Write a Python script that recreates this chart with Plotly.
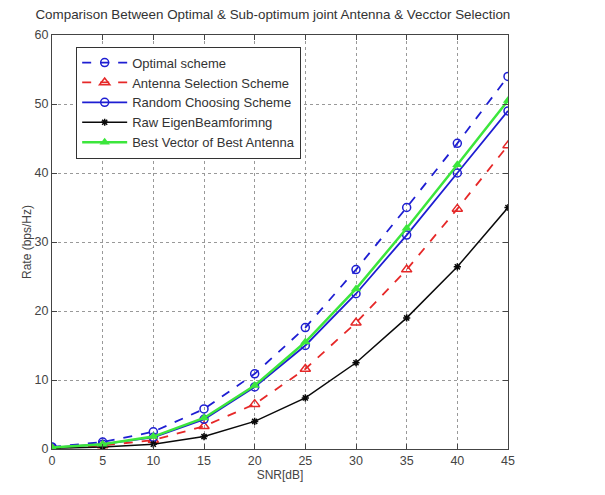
import plotly.graph_objects as go

snr = [0, 5, 10, 15, 20, 25, 30, 35, 40, 45]
optimal = [0.3, 1.0, 2.5, 5.8, 10.9, 17.6, 26.0, 35.0, 44.3, 54.0]
antenna_sel = [0.1, 0.5, 1.3, 3.3, 6.5, 11.6, 18.3, 26.0, 34.8, 44.0]
random_choose = [0.2, 0.7, 1.7, 4.3, 9.0, 15.0, 22.5, 31.0, 40.0, 49.0]
raw_eigen = [0.1, 0.3, 0.7, 1.8, 4.0, 7.4, 12.5, 19.0, 26.4, 35.0]
best_vector = [0.2, 0.7, 1.8, 4.5, 9.2, 15.5, 23.2, 32.0, 41.2, 50.5]

x_ticks = [0, 5, 10, 15, 20, 25, 30, 35, 40, 45]
y_ticks = [0, 10, 20, 30, 40, 50, 60]

BLUE = "rgb(30,30,210)"
RED = "rgb(230,40,40)"
GREEN = "rgb(60,230,60)"
BLACK = "rgb(10,10,10)"
FONT = "Arial, Liberation Sans"

fig = go.Figure()
fig.add_trace(go.Scatter(x=snr, y=optimal, name="Optimal scheme", mode="lines+markers",
                         line=dict(color=BLUE, width=1.8, dash="dash"),
                         marker=dict(symbol="circle-open", size=8, color=BLUE, line=dict(width=1.5))))
fig.add_trace(go.Scatter(x=snr, y=antenna_sel, name="Antenna Selection Scheme", mode="lines+markers",
                         line=dict(color=RED, width=1.8, dash="dash"),
                         marker=dict(symbol="triangle-up-open", size=9, color=RED, line=dict(width=1.5))))
fig.add_trace(go.Scatter(x=snr, y=random_choose, name="Random Choosing Scheme", mode="lines+markers",
                         line=dict(color=BLUE, width=1.8),
                         marker=dict(symbol="circle-open", size=8, color=BLUE, line=dict(width=1.5))))
fig.add_trace(go.Scatter(x=snr, y=raw_eigen, name="Raw EigenBeamforimng", mode="lines+markers",
                         line=dict(color=BLACK, width=1.5),
                         marker=dict(symbol="asterisk", size=6, color=BLACK, line=dict(width=1.5, color=BLACK))))
fig.add_trace(go.Scatter(x=snr, y=best_vector, name="Best Vector of Best Antenna", mode="lines+markers",
                         line=dict(color=GREEN, width=2.5),
                         marker=dict(symbol="triangle-up", size=9, color=GREEN)))

axis_common = dict(showline=True, linecolor="#444", linewidth=1, mirror="ticks",
                   ticks="inside", ticklen=5, tickcolor="#444",
                   showgrid=True, gridcolor="#999", griddash="dot", gridwidth=1,
                   zeroline=False, tickfont=dict(family=FONT, size=12.5, color="#444"))

fig.update_xaxes(range=[0, 45], tickvals=x_ticks,
                 title=dict(text="SNR[dB]", font=dict(family=FONT, size=12, color="#444"), standoff=2),
                 **axis_common)
fig.update_yaxes(range=[0, 60], tickvals=y_ticks,
                 title=dict(text="Rate (bps/Hz)", font=dict(family=FONT, size=12, color="#444"), standoff=0),
                 **axis_common)

fig.update_layout(
    width=605, height=495,
    margin=dict(l=52, r=97, t=35, b=46),
    paper_bgcolor="white", plot_bgcolor="white",
    title=dict(text="Comparison Between Optimal & Sub-optimum joint Antenna & Vecctor Selection",
               x=0.451, xanchor="center", y=0.972, yanchor="middle",
               font=dict(family=FONT, size=13.4, color="#333")),
    legend=dict(x=0.053, y=0.972, xanchor="left", yanchor="top",
                bordercolor="#333", borderwidth=1, bgcolor="white",
                font=dict(family=FONT, size=13, color="#333"),
                tracegroupgap=0, itemwidth=45),
    showlegend=True,
)

fig.write_html("out.html")
